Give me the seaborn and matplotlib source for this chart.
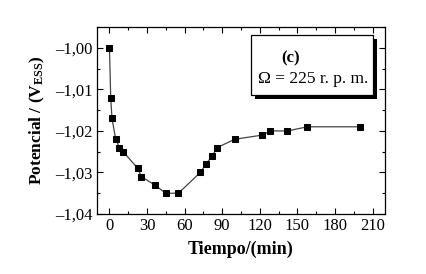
import matplotlib
matplotlib.use("Agg")
import matplotlib.pyplot as plt
import seaborn as sns
import pandas as pd
from matplotlib.ticker import MultipleLocator, FuncFormatter
from matplotlib.patches import Rectangle

tiempo = [0, 1, 2, 5, 8, 11, 22.5, 25.5, 36, 45, 55, 72.5, 77, 82, 86, 100, 122, 128.5, 142, 158, 200]
potencial = [-1.000, -1.012, -1.017, -1.022, -1.024, -1.025, -1.029, -1.031, -1.033, -1.035, -1.035,
             -1.030, -1.028, -1.026, -1.024, -1.022, -1.021, -1.020, -1.020, -1.019, -1.019]
xticks = [0, 30, 60, 90, 120, 150, 180, 210]
yticks = [-1.04, -1.03, -1.02, -1.01, -1.00]

sns.set_style("ticks")
plt.rcParams['font.family'] = ['Liberation Serif', 'DejaVu Serif']
plt.rcParams['mathtext.fontset'] = 'custom'
plt.rcParams['mathtext.rm'] = 'Liberation Serif'
plt.rcParams['mathtext.bf'] = 'Liberation Serif:bold'
for k in ['text.color', 'axes.labelcolor', 'xtick.color', 'ytick.color', 'axes.edgecolor']:
    plt.rcParams[k] = 'black'

df = pd.DataFrame({"t": tiempo, "p": potencial})

fig = plt.figure(figsize=(4.27, 2.74), dpi=100)
ax = fig.add_axes([0.227, 0.219, 0.675, 0.682])
sns.lineplot(data=df, x="t", y="p", ax=ax, color="#444444", linewidth=0.9,
             marker="s", markersize=5, markerfacecolor="black", markeredgecolor="black",
             sort=False, estimator=None)

ax.set_xlim(-10, 220)
ax.set_ylim(-1.04, -0.995)
ax.set_xticks(xticks)
ax.set_yticks(yticks)
ax.xaxis.set_minor_locator(MultipleLocator(15))
ax.yaxis.set_minor_locator(MultipleLocator(0.005))
ax.yaxis.set_major_formatter(FuncFormatter(lambda v, p: f"{v:.2f}".replace('.', ',').replace('-', '\u2013')))
ax.tick_params(which='both', direction='in', top=True, right=True, labelsize=12, width=0.8, color='black')
ax.tick_params(which='major', length=4, pad=3)
ax.tick_params(which='minor', length=2)
for s in ax.spines.values():
    s.set_linewidth(0.9)
    s.set_color('black')

ax.set_xlabel("Tiempo/(min)", fontsize=13, fontweight='bold', labelpad=5)
ax.set_ylabel(r"Potencial / ($\mathbf{V_{ESS}}$)", fontsize=12.5, fontweight='bold', labelpad=6)

# legend-like box with shadow
x0, y0, w, h = 0.535, 0.636, 0.424, 0.321
ax.add_patch(Rectangle((x0 + 0.012, y0 - 0.019), w, h, transform=ax.transAxes,
                       facecolor='black', edgecolor='none', zorder=5))
ax.add_patch(Rectangle((x0, y0), w, h, transform=ax.transAxes,
                       facecolor='white', edgecolor='black', linewidth=0.9, zorder=6))
ax.text(x0 + w * 0.32, y0 + h * 0.62, "(c)", transform=ax.transAxes, fontsize=12,
        fontweight='bold', ha='center', va='center', zorder=7)
ax.text(x0 + w * 0.51, y0 + h * 0.27, "Ω = 225 r. p. m.", transform=ax.transAxes, fontsize=12.5,
        ha='center', va='center', zorder=7)

fig.savefig("out.png", dpi=100)
